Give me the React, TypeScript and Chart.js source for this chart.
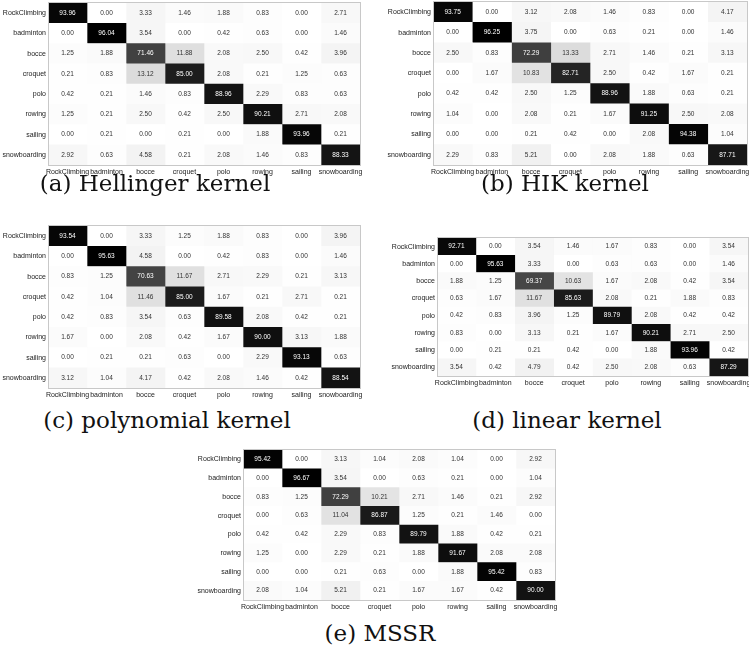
import React, { useEffect, useRef } from 'react';
import { Chart, registerables } from 'chart.js';
Chart.register(...registerables);

const categories = ['RockClimbing', 'badminton', 'bocce', 'croquet', 'polo', 'rowing', 'sailing', 'snowboarding'];

const hellinger = [
  [93.96, 0.0, 3.33, 1.46, 1.88, 0.83, 0.0, 2.71],
  [0.0, 96.04, 3.54, 0.0, 0.42, 0.63, 0.0, 1.46],
  [1.25, 1.88, 71.46, 11.88, 2.08, 2.5, 0.42, 3.96],
  [0.21, 0.83, 13.12, 85.0, 2.08, 0.21, 1.25, 0.63],
  [0.42, 0.21, 1.46, 0.83, 88.96, 2.29, 0.83, 0.63],
  [1.25, 0.21, 2.5, 0.42, 2.5, 90.21, 2.71, 2.08],
  [0.0, 0.21, 0.0, 0.21, 0.0, 1.88, 93.96, 0.21],
  [2.92, 0.63, 4.58, 0.21, 2.08, 1.46, 0.83, 88.33],
];
const hik = [
  [93.75, 0.0, 3.12, 2.08, 1.46, 0.83, 0.0, 4.17],
  [0.0, 96.25, 3.75, 0.0, 0.63, 0.21, 0.0, 1.46],
  [2.5, 0.83, 72.29, 13.33, 2.71, 1.46, 0.21, 3.13],
  [0.0, 1.67, 10.83, 82.71, 2.5, 0.42, 1.67, 0.21],
  [0.42, 0.42, 2.5, 1.25, 88.96, 1.88, 0.63, 0.21],
  [1.04, 0.0, 2.08, 0.21, 1.67, 91.25, 2.5, 2.08],
  [0.0, 0.0, 0.21, 0.42, 0.0, 2.08, 94.38, 1.04],
  [2.29, 0.83, 5.21, 0.0, 2.08, 1.88, 0.63, 87.71],
];
const polynomial = [
  [93.54, 0.0, 3.33, 1.25, 1.88, 0.83, 0.0, 3.96],
  [0.0, 95.63, 4.58, 0.0, 0.42, 0.83, 0.0, 1.46],
  [0.83, 1.25, 70.63, 11.67, 2.71, 2.29, 0.21, 3.13],
  [0.42, 1.04, 11.46, 85.0, 1.67, 0.21, 2.71, 0.21],
  [0.42, 0.83, 3.54, 0.63, 89.58, 2.08, 0.42, 0.21],
  [1.67, 0.0, 2.08, 0.42, 1.67, 90.0, 3.13, 1.88],
  [0.0, 0.21, 0.21, 0.63, 0.0, 2.29, 93.13, 0.63],
  [3.12, 1.04, 4.17, 0.42, 2.08, 1.46, 0.42, 88.54],
];
const linear = [
  [92.71, 0.0, 3.54, 1.46, 1.67, 0.83, 0.0, 3.54],
  [0.0, 95.63, 3.33, 0.0, 0.63, 0.63, 0.0, 1.46],
  [1.88, 1.25, 69.37, 10.63, 1.67, 2.08, 0.42, 3.54],
  [0.63, 1.67, 11.67, 85.63, 2.08, 0.21, 1.88, 0.83],
  [0.42, 0.83, 3.96, 1.25, 89.79, 2.08, 0.42, 0.42],
  [0.83, 0.0, 3.13, 0.21, 1.67, 90.21, 2.71, 2.5],
  [0.0, 0.21, 0.21, 0.42, 0.0, 1.88, 93.96, 0.42],
  [3.54, 0.42, 4.79, 0.42, 2.5, 2.08, 0.63, 87.29],
];
const mssr = [
  [95.42, 0.0, 3.13, 1.04, 2.08, 1.04, 0.0, 2.92],
  [0.0, 96.67, 3.54, 0.0, 0.63, 0.21, 0.0, 1.04],
  [0.83, 1.25, 72.29, 10.21, 2.71, 1.46, 0.21, 2.92],
  [0.0, 0.63, 11.04, 86.87, 1.25, 0.21, 1.46, 0.0],
  [0.42, 0.42, 2.29, 0.83, 89.79, 1.88, 0.42, 0.21],
  [1.25, 0.0, 2.29, 0.21, 1.88, 91.67, 2.08, 2.08],
  [0.0, 0.0, 0.21, 0.63, 0.0, 1.88, 95.42, 0.83],
  [2.08, 1.04, 5.21, 0.21, 1.67, 1.67, 0.42, 90.0],
];

const captions = ['(a) Hellinger kernel', '(b) HIK kernel', '(c) polynomial kernel', '(d) linear kernel', '(e) MSSR'];

type Box = { L: number; T: number; R: number; B: number; yw: number };

function grey(v: number, vmax: number) {
  const g = Math.round(255 * (1 - Math.max(0, Math.min(1, v / vmax))));
  return `rgb(${g},${g},${g})`;
}

const RP = 16;
const XH = 16;

function Matrix({ values, box }: { values: number[][]; box: Box }) {
  const ref = useRef<HTMLCanvasElement>(null);
  const w = box.yw + (box.R - box.L) + RP;
  const h = 1 + (box.B - box.T) + XH;
  useEffect(() => {
    const vmax = Math.max(...values.flat());
    const cellText = {
      id: 'cellText',
      afterDatasetsDraw(chart: any) {
        const ctx = chart.ctx;
        ctx.save();
        ctx.font = '6.5px "Liberation Sans", Arial, sans-serif';
        ctx.textAlign = 'center';
        ctx.textBaseline = 'middle';
        chart.data.datasets.forEach((_: any, j: number) => {
          const meta = chart.getDatasetMeta(j);
          meta.data.forEach((el: any, i: number) => {
            const p = el.getCenterPoint();
            const v = values[i][j];
            ctx.fillStyle = v > vmax / 2 ? '#ffffff' : '#333333';
            ctx.fillText(v.toFixed(2), p.x, p.y);
          });
        });
        const a = chart.chartArea;
        ctx.strokeStyle = '#c8c8c8';
        ctx.lineWidth = 1;
        ctx.strokeRect(Math.round(a.left) + 0.5, Math.round(a.top) - 0.5, Math.round(a.right - a.left), Math.round(a.bottom - a.top) + 1);
        ctx.restore();
      },
    };
    const font = { family: '"Liberation Sans", Arial, sans-serif', size: 7 };
    const chart = new Chart(ref.current as HTMLCanvasElement, {
      type: 'bar',
      data: {
        labels: categories,
        datasets: categories.map((c, j) => ({
          label: c,
          data: values.map(() => [j, j + 1]) as any,
          backgroundColor: values.map((row) => grey(row[j], vmax)),
          borderWidth: 0,
          barPercentage: 1,
          categoryPercentage: 1,
          grouped: false,
        })),
      },
      options: {
        indexAxis: 'y',
        responsive: false,
        animation: false,
        events: [],
        layout: { padding: { top: 1, right: RP, left: 0, bottom: 0 } },
        plugins: { legend: { display: false }, tooltip: { enabled: false }, title: { display: false } },
        scales: {
          x: {
            type: 'linear',
            min: 0,
            max: 8,
            grid: { display: false, drawTicks: false },
            border: { display: false },
            afterBuildTicks: (scale: any) => {
              scale.ticks = categories.map((_, i) => ({ value: i + 0.5 }));
            },
            afterFit: (scale: any) => {
              scale.height = XH;
              scale.paddingLeft = 0;
              scale.paddingRight = 0;
            },
            ticks: {
              autoSkip: false,
              maxRotation: 0,
              minRotation: 0,
              padding: 3,
              color: '#222',
              font,
              callback: (v: any) => categories[Math.round(Number(v) - 0.5)],
            },
          },
          y: {
            type: 'category',
            grid: { display: false, drawTicks: false },
            border: { display: false },
            afterFit: (scale: any) => {
              scale.width = box.yw;
              scale.paddingTop = 0;
              scale.paddingBottom = 0;
            },
            ticks: { padding: 2, color: '#222', font, autoSkip: false },
          },
        },
      } as any,
      plugins: [cellText],
    });
    return () => chart.destroy();
  }, [values, box]);
  return (
    <canvas
      ref={ref}
      width={w}
      height={h}
      style={{ position: 'absolute', left: box.L - box.yw, top: box.T - 1, width: w, height: h }}
    />
  );
}

const panels: { values: number[][]; box: Box; cap: [number, number] }[] = [
  { values: hellinger, box: { L: 48, T: 3, R: 360, B: 165, yw: 48 }, cap: [155, 183] },
  { values: hik, box: { L: 433, T: 2, R: 747, B: 165, yw: 60 }, cap: [565, 183] },
  { values: polynomial, box: { L: 48, T: 226, R: 360, B: 388, yw: 48 }, cap: [167, 420] },
  { values: linear, box: { L: 437, T: 238, R: 748, B: 376, yw: 60 }, cap: [567, 420] },
  { values: mssr, box: { L: 243, T: 450, R: 555, B: 600, yw: 60 }, cap: [380, 633] },
];

export default function App() {
  return (
    <div style={{ position: 'absolute', left: 0, top: 0, width: 749, height: 647, overflow: 'hidden', background: '#fff' }}>
      {panels.map((p, i) => (
        <Matrix key={i} values={p.values} box={p.box} />
      ))}
      {panels.map((p, i) => (
        <div
          key={'c' + i}
          style={{
            position: 'absolute',
            left: p.cap[0] - 200,
            width: 400,
            top: p.cap[1] - 14,
            height: 28,
            lineHeight: '28px',
            textAlign: 'center',
            fontFamily: '"DejaVu Serif", serif',
            fontSize: 23,
            color: '#111',
            whiteSpace: 'nowrap',
          }}
        >
          {captions[i]}
        </div>
      ))}
    </div>
  );
}
